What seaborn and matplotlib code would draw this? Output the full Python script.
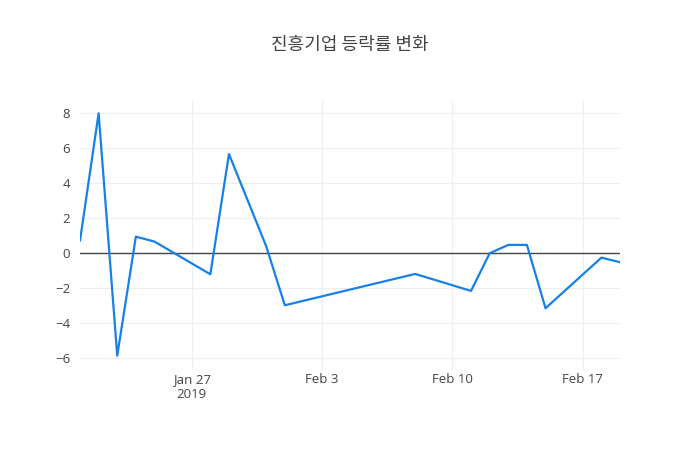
import pandas as pd
import numpy as np
import matplotlib
matplotlib.use('Agg')
import matplotlib.pyplot as plt
import seaborn as sns

# --- DATA ---
dates = ['2019-01-21', '2019-01-22', '2019-01-23', '2019-01-24', '2019-01-25',
         '2019-01-28', '2019-01-29', '2019-01-31', '2019-02-01', '2019-02-08',
         '2019-02-11', '2019-02-12', '2019-02-13', '2019-02-14', '2019-02-15',
         '2019-02-18', '2019-02-19']
change_pct = [0.72, 8.0, -5.85, 0.95, 0.67,
              -1.2, 5.67, 0.4, -2.97, -1.18,
              -2.15, 0.0, 0.48, 0.48, -3.14,
              -0.25, -0.51]
y_ticks = [-6, -4, -2, 0, 2, 4, 6, 8]
x_ticks = ['2019-01-27', '2019-02-03', '2019-02-10', '2019-02-17']
x_tick_labels = ['Jan 27\n2019', 'Feb 3', 'Feb 10', 'Feb 17']
title = '진흥기업 등락률 변화'

df = pd.DataFrame({'date': pd.to_datetime(dates), 'change': change_pct})

sns.set_style('white')
plt.rcParams['font.family'] = ['Open Sans', 'Noto Sans CJK KR', 'DejaVu Sans']

fig = plt.figure(figsize=(7, 4.5), dpi=100)
ax = fig.add_axes([80 / 700, 80 / 450, 540 / 700, 270 / 450])

sns.lineplot(data=df, x='date', y='change', ax=ax, color='#1780e8', linewidth=1.6)

ax.set_xlim(df['date'].min(), df['date'].max())
ax.set_ylim(-6.67, 8.76)
ax.set_yticks(y_ticks)
ax.set_yticklabels([str(v).replace('-', '\u2212') for v in y_ticks])
ax.set_xticks(pd.to_datetime(x_ticks))
ax.set_xticklabels(x_tick_labels)

ax.grid(True, color='#eeeeee', linewidth=0.8)
ax.axhline(0, color='#444444', linewidth=1, zorder=1.5)
for s in ax.spines.values():
    s.set_visible(False)
ax.tick_params(length=0, labelsize=9.5, labelcolor='#444444')
ax.tick_params(axis='x', pad=2)
ax.tick_params(axis='y', pad=7)
for lbl in ax.get_xticklabels():
    lbl.set_linespacing(1.25)
ax.set_xlabel('')
ax.set_ylabel('')

fig.text(0.5, 1 - 45 / 450, title, ha='center', va='center', fontsize=13, color='#444444',
         family=['Noto Sans CJK KR', 'DejaVu Sans'])

plt.savefig('out.png', dpi=100)
